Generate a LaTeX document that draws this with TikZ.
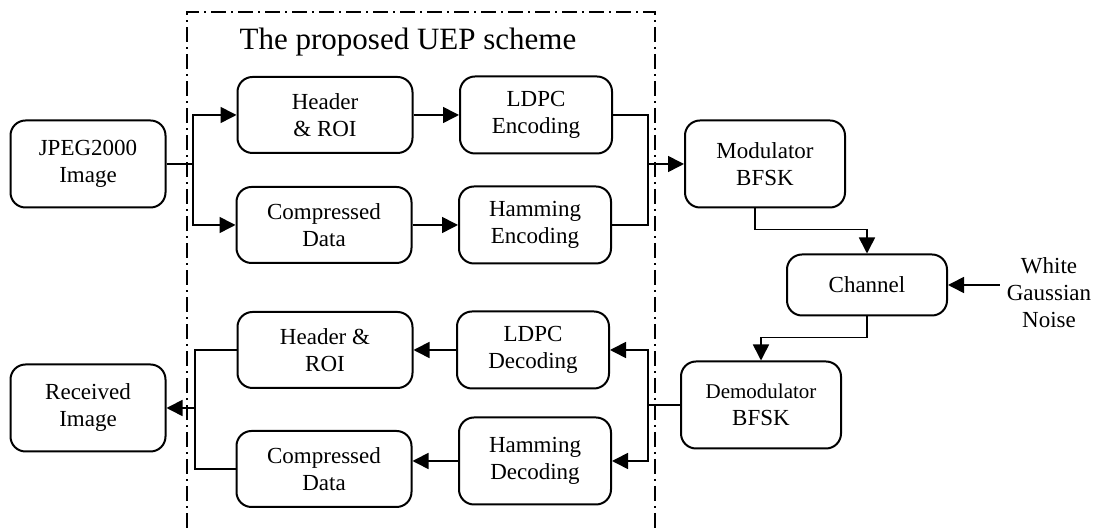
\documentclass[tikz,border=0pt]{standalone}
\usepackage{fontspec}
\setmainfont{Liberation Serif}
\usetikzlibrary{arrows.meta}

\begin{document}
\begin{tikzpicture}[x=0.5pt,y=-0.5pt,
    block/.style={draw,line width=1pt,rounded corners=7.5pt,align=center,font=\fontsize{11.5}{13.5}\selectfont},
    wide/.style={block,minimum width=87.5pt,minimum height=38pt},
    code/.style={block,minimum width=76pt,minimum height=38.5pt},
    big/.style={block,minimum width=80pt,minimum height=43.5pt},
    link/.style={line width=0.8pt},
    arr/.style={link,-{Triangle[length=8pt,width=8pt]}}]

    \useasboundingbox (0,0) rectangle (1100,528);

    \draw[line width=0.6pt,dash pattern=on 7.5pt off 2.5pt on 1pt off 2.5pt] (187,528) -- (187,12) -- (655,12) -- (655,528);

    \node (title) at (408,42) {\fontsize{15.5}{18}\selectfont The proposed UEP scheme};

    \node[big,minimum width=77.5pt] (jpeg) at (88,164) {JPEG2000\\Image};
    \node[big,minimum width=77.5pt] (recv) at (88,408) {Received\\Image};

    \node[wide] (hdrE) at (325,115) {Header\\\& ROI};
    \node[wide] (cmpE) at (324,225) {Compressed\\Data};
    \node[code] (ldpcE) at (536,115) {LDPC\\Encoding};
    \node[code] (hamE) at (535,225) {Hamming\\Encoding};

    \node[wide] (hdrD) at (325,350) {Header \&\\ROI};
    \node[wide] (cmpD) at (324,469) {Compressed\\Data};
    \node[code] (ldpcD) at (533,350) {LDPC\\Decoding};
    \node[code,minimum height=43.5pt] (hamD) at (535,461) {Hamming\\Decoding};

    \node[big] (mod) at (765,164) {Modulator\\BFSK};
    \node[big,minimum height=30.5pt] (chan) at (867,285) {Channel};
    \node[big] (demod) at (761,405) {{\fontsize{10.5}{13.5}\selectfont Demodulator}\\BFSK};
    \node[align=center,font=\fontsize{11.5}{13.5}\selectfont] (noise) at (1049,293) {White\\Gaussian\\Noise};

    \coordinate (split) at (193,164);
    \coordinate (join) at (648,164);
    \coordinate (fork) at (648,405);
    \coordinate (gather) at (195,408);

    \draw[link] (jpeg.east) -- (split);
    \draw[arr] (split) |- (hdrE.west);
    \draw[arr] (split) |- (cmpE.west);

    \draw[arr] (hdrE) -- (ldpcE);
    \draw[arr] (cmpE.east) -- (cmpE.east -| hamE.west);

    \draw[link] (ldpcE.east) -| (join);
    \draw[link] (hamE.east) -| (join);
    \draw[arr] (join) -- (mod.west);

    \draw[arr] ([xshift=-5pt]mod.south) -- ++(0,21) -| (chan.north);
    \draw[arr] (chan.east -| noise.west) -- (chan.east);
    \draw[arr] (chan.south) -- ++(0,21) -| (demod.north);

    \draw[link] (demod.west) -- (fork);
    \draw[arr] (fork) |- (ldpcD.east);
    \draw[arr] (fork) |- (hamD.east);

    \draw[arr] (ldpcD) -- (hdrD);
    \draw[arr] (hamD.west) -- (hamD.west -| cmpD.east);

    \draw[link] (hdrD.west) -| (gather);
    \draw[link] (cmpD.west) -| (gather);
    \draw[arr] (gather) -- (recv.east);
\end{tikzpicture}
\end{document}
